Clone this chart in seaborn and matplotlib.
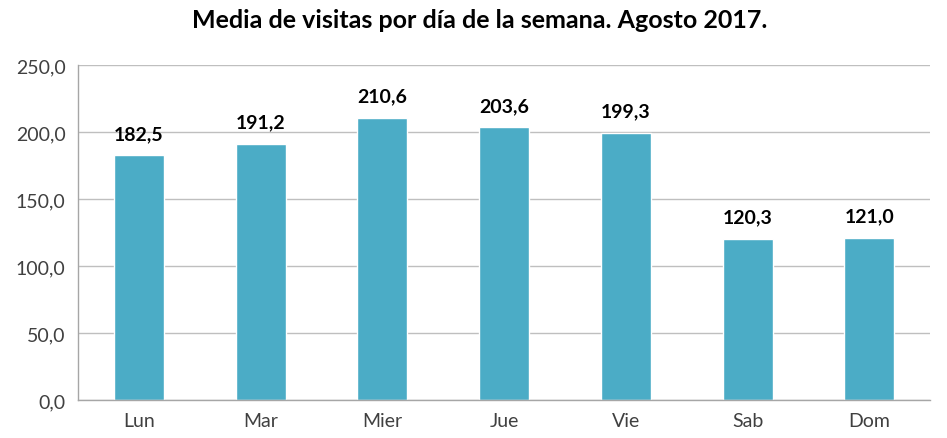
import matplotlib
matplotlib.use("Agg")
import matplotlib.pyplot as plt
import seaborn as sns
import pandas as pd

dias = ['Lun', 'Mar', 'Mier', 'Jue', 'Vie', 'Sab', 'Dom']
visitas = [182.5, 191.2, 210.6, 203.6, 199.3, 120.3, 121.0]
yticks = [0, 50, 100, 150, 200, 250]

df = pd.DataFrame({'dia': dias, 'visitas': visitas})

sns.set_style('white')
plt.rcParams['font.family'] = ['Lato', 'DejaVu Sans']

fig = plt.figure(figsize=(9.47, 4.39), dpi=100)
ax = fig.add_axes([0.0824, 0.0866, 0.9, 0.7631])

sns.barplot(data=df, x='dia', y='visitas', color='#4BACC6', saturation=1,
            width=0.41, ax=ax)

ax.set_ylim(0, 250)
ax.set_xlim(-0.5, len(dias) - 0.5)
ax.set_yticks(yticks)
ax.set_yticklabels([f'{v:.1f}'.replace('.', ',') for v in yticks],
                   fontsize=14, color='#404040')
ax.set_xticks(range(len(dias)))
ax.set_xticklabels(dias, fontsize=14, color='#404040')
ax.set_xlabel('')
ax.set_ylabel('')

# boundaries between categories as tick marks
ax.set_xticks([i + 0.5 for i in range(-1, len(dias))], minor=True)
ax.tick_params(axis='x', which='major', length=0, pad=9)
ax.tick_params(axis='x', which='minor', length=5, color='#a6a6a6', width=1)
ax.tick_params(axis='y', length=5, color='#a6a6a6', width=1, pad=4)

ax.yaxis.grid(True, color='#bfbfbf', linewidth=1)
ax.set_axisbelow(True)
for s in ['top', 'right']:
    ax.spines[s].set_visible(False)
for s in ['left', 'bottom']:
    ax.spines[s].set_color('#a6a6a6')
    ax.spines[s].set_linewidth(1)

for i, v in enumerate(visitas):
    ax.text(i, v + 10, f'{v:.1f}'.replace('.', ','), ha='center', va='bottom',
            fontsize=14, fontweight='bold', color='black')

fig.text(0.507, 0.953, 'Media de visitas por día de la semana. Agosto 2017.',
         ha='center', va='center', fontsize=18, fontweight='bold',
         color='black')

fig.savefig('out.png', dpi=100)
